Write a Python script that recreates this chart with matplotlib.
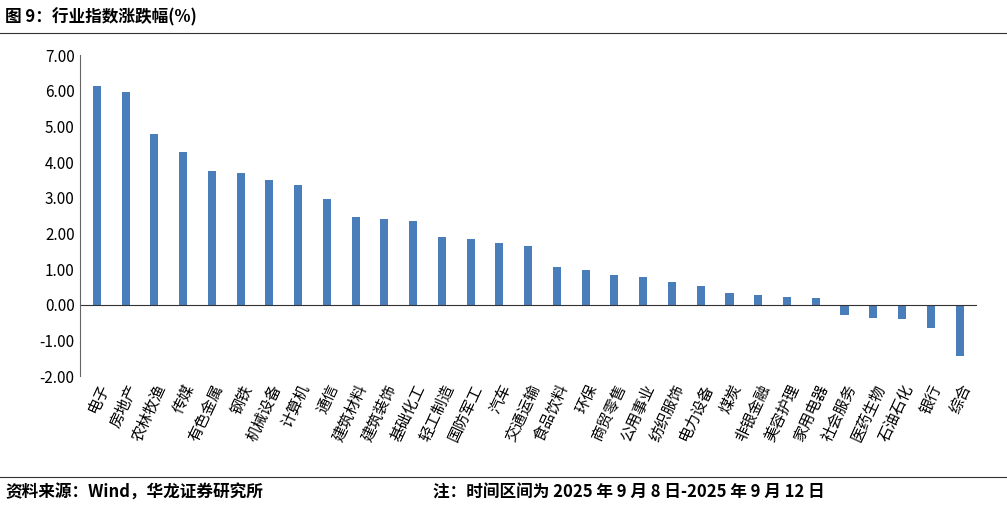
import matplotlib
matplotlib.use("Agg")
import matplotlib.pyplot as plt

plt.rcParams["font.family"] = ["Noto Sans CJK SC", "DejaVu Sans"]

INDUSTRIES = ["电子", "房地产", "农林牧渔", "传媒", "有色金属", "钢铁", "机械设备", "计算机",
              "通信", "建筑材料", "建筑装饰", "基础化工", "轻工制造", "国防军工", "汽车",
              "交通运输", "食品饮料", "环保", "商贸零售", "公用事业", "纺织服饰", "电力设备",
              "煤炭", "非银金融", "美容护理", "家用电器", "社会服务", "医药生物", "石油石化",
              "银行", "综合"]
CHANGES = [6.13, 5.97, 4.80, 4.27, 3.76, 3.70, 3.50, 3.37, 2.98, 2.45, 2.40, 2.35, 1.90,
           1.84, 1.73, 1.65, 1.07, 0.99, 0.83, 0.78, 0.65, 0.52, 0.32, 0.27, 0.22, 0.19,
           -0.28, -0.36, -0.40, -0.66, -1.42]
YTICKS = [-2, -1, 0, 1, 2, 3, 4, 5, 6, 7]

fig = plt.figure(figsize=(10.07, 5.05), dpi=100)
ax = fig.add_axes([0.079, 0.255, 0.891, 0.636])

x = range(len(INDUSTRIES))
ax.bar(x, CHANGES, width=0.28, color="#4A7EBB")
ax.axhline(0, color="#333333", linewidth=0.8)
ax.set_xlim(-0.6, len(INDUSTRIES) - 0.4)
ax.set_ylim(-2, 7)
ax.set_yticks(YTICKS)
ax.set_yticklabels([f"{v:.2f}" for v in YTICKS], fontsize=11)
ax.set_xticks(list(x))
ax.set_xticklabels(INDUSTRIES, rotation=65, ha="right", rotation_mode="anchor", fontsize=11)
ax.tick_params(axis="x", length=0, pad=4)
ax.tick_params(axis="y", length=0)
for s in ["top", "right", "bottom"]:
    ax.spines[s].set_visible(False)
ax.spines["left"].set_color("#666666")

fig.text(0.005, 0.965, "图 9：行业指数涨跌幅(%)", fontsize=12, fontweight="bold", va="center")
fig.add_artist(plt.Line2D([0, 1], [0.935, 0.935], color="#333333", linewidth=0.8))
fig.add_artist(plt.Line2D([0, 1], [0.055, 0.055], color="#333333", linewidth=0.8))
fig.text(0.005, 0.025, "资料来源：Wind，华龙证券研究所", fontsize=12, fontweight="bold", va="center")
fig.text(0.43, 0.025, "注：时间区间为 2025 年 9 月 8 日-2025 年 9 月 12 日", fontsize=12,
         fontweight="bold", va="center")

fig.savefig("out.png", dpi=100)
